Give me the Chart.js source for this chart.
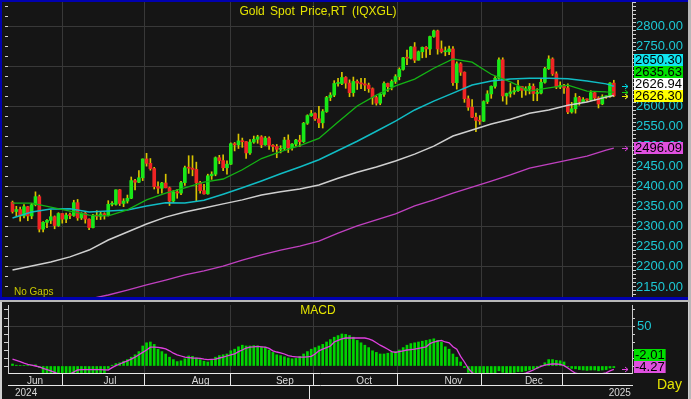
<!DOCTYPE html>
<html>
<head>
<meta charset="utf-8">
<script src="https://cdn.jsdelivr.net/npm/chart.js@4.4.1/dist/chart.umd.min.js"></script>
<style>
  html, body { margin: 0; padding: 0; width: 691px; height: 399px; overflow: hidden; background: #b8b8b8; }
  #top { position: absolute; left: 0; top: 0; width: 688px; height: 300px; background: #0000b0; }
  #c1 { position: absolute; left: 2px; top: 2px; background: #151515; }
  #bot { position: absolute; left: 0; top: 302px; width: 689px; height: 97px; background: #d0d0d0; }
  #c2 { position: absolute; left: 2px; top: 302px; background: #151515; }
</style>
</head>
<body>
<div id="top"></div>
<canvas id="c1" width="686" height="295"></canvas>
<div id="bot"></div>
<canvas id="c2" width="686" height="97"></canvas>
<script>
// daily candles, 29 May 2024 .. 3 Jan 2025 (index = trading day)
const open = [2361,2338,2343,2327,2350,2327,2355,2375,2294,2311, 2316,2325,2303,2333,2319,2329,2328,2360,2322,2334,
  2319,2298,2327,2326,2332,2330,2356,2356,2392,2358, 2364,2371,2415,2411,2422,2469,2458,2445,2400,2396,
  2409,2397,2364,2387,2384,2410,2447,2446,2443,2410, 2390,2382,2427,2431,2472,2465,2447,2456,2507,2504,
  2514,2512,2484,2511,2518,2524,2504,2521,2503,2500, 2493,2495,2516,2497,2506,2516,2512,2558,2577,2582,
  2569,2559,2587,2622,2628,2657,2657,2672,2658,2634, 2662,2658,2656,2653,2644,2622,2608,2630,2657,2649,
  2662,2674,2692,2721,2720,2748,2715,2736,2747,2743, 2774,2788,2743,2736,2736,2743,2659,2706,2685,2619,
  2598,2573,2565,2563,2612,2631,2650,2670,2716,2626, 2632,2636,2639,2650,2640,2643,2650,2632,2633,2660,
  2694,2718,2681,2648,2652,2646,2586,2594,2622,2612, 2617,2616,2634,2621,2606,2624,2624,2658];
const high = [2364,2351,2349,2355,2351,2358,2387,2379,2313,2318, 2342,2327,2335,2333,2334,2334,2366,2368,2335,2336,
  2320,2331,2340,2338,2335,2365,2363,2392,2393,2370, 2379,2424,2418,2440,2469,2483,2470,2448,2412,2411,
  2431,2399,2390,2393,2413,2451,2477,2477,2461,2413, 2406,2431,2437,2474,2478,2479,2464,2509,2510,2531,
  2521,2512,2517,2526,2528,2527,2525,2524,2505,2505, 2502,2523,2529,2507,2518,2528,2560,2579,2590,2584,
  2600,2592,2625,2634,2664,2670,2685,2674,2666,2673, 2666,2670,2670,2658,2646,2625,2633,2661,2658,2666,
  2679,2696,2722,2740,2749,2759,2738,2748,2749,2775, 2790,2790,2763,2748,2750,2749,2711,2709,2686,2626,
  2617,2583,2577,2614,2639,2651,2674,2721,2721,2633, 2657,2647,2665,2650,2649,2657,2656,2644,2668,2697,
  2726,2721,2686,2661,2655,2656,2610,2632,2625,2622, 2619,2639,2637,2624,2629,2626,2659,2665];
const low = [2334,2326,2314,2322,2315,2320,2352,2287,2287,2298, 2308,2295,2301,2309,2310,2320,2326,2316,2318,2309,
  2293,2297,2318,2318,2319,2327,2352,2354,2353,2350, 2359,2370,2392,2410,2415,2451,2441,2394,2383,2384,
  2397,2353,2360,2371,2380,2403,2433,2427,2364,2384, 2381,2381,2418,2427,2457,2440,2431,2455,2489,2495,
  2498,2470,2480,2508,2508,2497,2503,2493,2488,2472, 2484,2491,2485,2491,2500,2500,2510,2555,2575,2565,
  2547,2546,2585,2614,2624,2650,2654,2645,2624,2625, 2642,2644,2639,2635,2605,2603,2604,2625,2637,2641,
  2657,2666,2690,2704,2718,2709,2715,2721,2722,2729, 2772,2730,2733,2726,2729,2652,2643,2677,2610,2590,
  2572,2537,2555,2562,2607,2620,2645,2668,2613,2605, 2623,2630,2637,2622,2628,2631,2614,2614,2631,2658,
  2692,2677,2644,2644,2632,2582,2583,2583,2603,2609, 2612,2614,2614,2596,2604,2620,2622,2624];
const close = [2338,2343,2327,2350,2327,2355,2375,2294,2311,2316, 2325,2303,2333,2319,2329,2328,2360,2322,2334,2319,
  2298,2327,2326,2332,2330,2356,2356,2392,2358,2364, 2371,2415,2411,2422,2469,2458,2445,2400,2396,2409,
  2397,2364,2387,2384,2410,2447,2446,2443,2410,2390, 2382,2427,2431,2472,2465,2447,2456,2507,2504,2514,
  2512,2484,2511,2518,2524,2504,2521,2503,2500,2493, 2495,2516,2497,2506,2516,2512,2558,2577,2582,2569,
  2559,2587,2622,2628,2657,2657,2672,2658,2634,2662, 2658,2656,2653,2644,2622,2608,2630,2657,2649,2662,
  2674,2692,2721,2720,2748,2715,2736,2747,2743,2774, 2788,2743,2736,2736,2743,2659,2706,2685,2619,2598,
  2573,2565,2563,2612,2631,2650,2670,2716,2626,2632, 2636,2639,2650,2640,2643,2650,2632,2633,2660,2694,
  2718,2681,2648,2652,2646,2586,2594,2622,2612,2617, 2616,2634,2621,2606,2624,2624,2658,2626.30];

// moving averages, one value every 5 trading days
const maIdx = [0,5,10,15,20,25,30,35,40,45,50,55,60,65,70,75,80,85,90,95,100,105,110,115,120,125,130,135,140,145,150,155,157];
const ma20 = [2359,2359,2349,2339,2329,2327,2342,2367,2384,2397,2411,2419,2442,2470,2487,2502,2520,2561,2601,2628,2651,2668,2695,2718,2710,2680,2661,2638,2646,2653,2638,2636,2635.63];
const ma50 = [2322,2337,2344,2345,2337,2339,2342,2352,2360,2359,2366,2381,2397,2414,2432,2449,2467,2490,2513,2538,2563,2591,2613,2633,2653,2663,2668,2670,2670,2669,2663,2656,2650.30];
const ma100 = [2192,2202,2212,2225,2242,2267,2287,2307,2324,2337,2347,2357,2367,2379,2387,2394,2404,2421,2436,2449,2464,2481,2501,2526,2541,2556,2568,2583,2591,2603,2611,2623,2626.94];
const ma200Idx = [20,25,30,35,40,45,50,55,60,65,70,75,80,85,90,95,100,105,110,115,120,125,130,135,140,145,150,155,157];
const ma200 = [2120,2130,2142,2155,2167,2180,2190,2202,2217,2230,2242,2252,2264,2284,2302,2317,2332,2352,2367,2384,2399,2414,2429,2446,2456,2466,2476,2491,2496.09];

// MACD panel
const macd = [2.5,1,0.5,0.5,0.5,1,1.5,-2,-9,-9, -9,-9,-9,-9,-9,-9,-9,-9,-9,-9,
  -9,-9,-9,-9,-9,-3,1,3,4,6, 8,11,14,18,25,29,30,27,21,18,
  15,11,8,5.5,6.5,9,12.5,12,10,8, 6,5,7,11,13,14,15,19,21,24,
  26,25,25,25.5,25,24,23.5,20,17,14, 13,11.5,10,9,9.5,12,15,18,21,23,
  25,27,30,33,36,38,40,39.5,38,36, 32,29,26,23,19,17,15,15,16,17,
  18,20,23,26,28,29,30,31,32,33, 34,32,30,24,21,15,11,5,-2,-8,
  -12,-16,-18,-17,-15,-12,-10,-6,-8,-9, -9,-8,-7,-7,-6,-5,-4,-3,0.5,4,
  8,8,7,6.5,5,-1,-3,-3.5,-4.5,-5, -5.5,-5,-5,-6,-5,-4.5,-2.5,-2.01];
const signal = [8.5,7,5.5,3.5,2,1,0,-1,-3,-4.5, -6,-8,-10,-11,-11,-10,-7.5,-5,-4.5,-4.6,
  -4.6,-4.6,-4.6,-4.6,-4.8,-5,-2,0.5,2.5,4.5, 6.5,8.5,11,14,17,20,23.5,23.5,23.3,22.5,
  21.5,19,16,14,12.5,11,10.5,10,9.8,9.6, 8.5,8,8.3,8.7,10,11,12.5,14,15,18,
  20,22.5,23.5,24,24.5,24,23.5,22,19,17.5, 16.5,15,13,12,11.5,11,11,11.5,12,15,
  19,21,23,25,30,32,34,35,35,35, 35,35,35,34,32,29,26,23.5,21,18,
  17,18,19,20,20.5,21,22,23,24,28, 30,31,32,30,29,24,21,12,5,-3,
  -8,-12,-14,-15,-16,-16,-15,-14,-13,-13, -12.5,-12,-11,-10,-9,-7,-5,-2.5,-0.5,1,
  2,2.5,2.5,2,0.5,-2.5,-6,-9,-10,-10.5, -11,-11,-10.5,-10,-9.5,-8.5,-6,-4.27];

// time axis
const monthStart = [3,23,46,68,89,112,133];
const monthLabels = ['Jun','Jul','Aug','Sep','Oct','Nov','Dec'];
const yearStart = [0,155];
const yearLabels = ['2024','2025'];

const X_MIN = -1.175, X_MAX = 161.75;
const GRID = '#383838';
const UP = '#18e818', DOWN = '#f02424', WICK = '#d8c400';
const AXIS_TXT = '#1cc8d4';
Chart.defaults.font.family = "'Liberation Sans', Arial, sans-serif";

const idx = open.map((_, i) => i);
const pts = (xs, ys) => xs.map((x, k) => ({x: x, y: ys[k]}));
const noPad = s => { s.paddingTop = 0; s.paddingBottom = 0; s.paddingLeft = 0; s.paddingRight = 0; };

// stacks value tags on the right axis (lowest value at the bottom) so they do not overlap
function drawTags(ctx, scale, area, tags, h, boxX) {
  ctx.font = "13px 'Liberation Sans', Arial";
  tags.forEach(t => {
    const p = scale.getPixelForValue(t.v);
    t.py = Math.min(Math.max(p, area.top + h / 2), area.bottom - h / 2);
  });
  tags.sort((a, b) => a.v - b.v);
  for (let k = 1; k < tags.length; k++) {
    if (tags[k - 1].py - tags[k].py < h) tags[k].py = tags[k - 1].py - h;
  }
  tags.forEach(t => {
    const txt = t.v.toFixed(2);
    const w = ctx.measureText(txt).width + 2;
    ctx.fillStyle = t.bg;
    ctx.fillRect(boxX, Math.round(t.py - h / 2), w, h);
    ctx.fillStyle = '#000';
    ctx.textAlign = 'left';
    ctx.textBaseline = 'middle';
    ctx.fillText(txt, boxX + 1, Math.round(t.py) + 0.5);
  });
}
function drawArrow(ctx, x, y, color) {
  ctx.strokeStyle = color;
  ctx.lineWidth = 1;
  ctx.beginPath();
  ctx.moveTo(x, y + 0.5); ctx.lineTo(x + 6, y + 0.5);
  ctx.moveTo(x + 3, y - 2); ctx.lineTo(x + 6, y + 0.5); ctx.lineTo(x + 3, y + 3);
  ctx.stroke();
}

const mainDecor = {
  id: 'mainDecor',
  afterDraw(chart) {
    const ctx = chart.ctx, ys = chart.scales.y, area = chart.chartArea;
    ctx.save();
    ctx.font = "12px 'Liberation Sans', Arial";
    ctx.fillStyle = '#e4e400';
    ctx.textAlign = 'center';
    ctx.textBaseline = 'middle';
    ctx.wordSpacing = '2px';
    ctx.fillText('Gold Spot Price,RT (IQXGL)', 316, 10);
    ctx.wordSpacing = '0px';
    ctx.font = "10px 'Liberation Sans', Arial";
    ctx.fillStyle = '#c8c800';
    ctx.textAlign = 'left';
    ctx.fillText('No Gaps', 12, 290);
    const last = close.length - 1;
    const ends = [
      {v: ma100[ma100.length - 1], c: '#e0e0e0'},
      {v: ma200[ma200.length - 1], c: '#d040d0'},
      {v: ma50[ma50.length - 1], c: '#00d8e0'},
      {v: ma20[ma20.length - 1], c: '#10d010'},
      {v: close[last], c: '#e8e800'}
    ];
    ends.forEach(e => drawArrow(ctx, area.right - 10, Math.round(ys.getPixelForValue(e.v)), e.c));
    drawTags(ctx, ys, area, [
      {v: ma50[ma50.length - 1], bg: '#10e4f0'},
      {v: ma20[ma20.length - 1], bg: '#00e000'},
      {v: ma100[ma100.length - 1], bg: '#ffffff'},
      {v: close[last], bg: '#ffff00'},
      {v: ma200[ma200.length - 1], bg: '#e050e0'}
    ], 12, area.right + 2);
    ctx.restore();
  }
};

new Chart(document.getElementById('c1'), {
  type: 'bar',
  data: {
    datasets: [
      {type: 'line', data: pts(maIdx, ma20), borderColor: '#14b414', borderWidth: 1.3, pointRadius: 0, order: 0},
      {type: 'line', data: pts(maIdx, ma50), borderColor: '#10bcc4', borderWidth: 1.5, pointRadius: 0, order: 0},
      {type: 'line', data: pts(maIdx, ma100), borderColor: '#cfcfcf', borderWidth: 1.5, pointRadius: 0, order: 0},
      {type: 'line', data: pts(ma200Idx, ma200), borderColor: '#c040c0', borderWidth: 1.3, pointRadius: 0, order: 0},
      {data: idx.map(i => ({x: i, y: [open[i], close[i]]})), backgroundColor: idx.map(i => close[i] >= open[i] ? UP : DOWN),
       barThickness: 3, minBarLength: 1, grouped: false, order: 1},
      {data: idx.map(i => ({x: i, y: [low[i], high[i]]})), backgroundColor: WICK,
       barThickness: 1, grouped: false, order: 2}
    ]
  },
  options: {
    responsive: false, animation: false, events: [],
    layout: {padding: 0},
    plugins: {legend: {display: false}, tooltip: {enabled: false}},
    scales: {
      x: {
        type: 'linear', min: X_MIN, max: X_MAX, offset: false,
        afterBuildTicks: s => { s.ticks = monthStart.map(v => ({value: v})); },
        ticks: {display: false},
        grid: {color: GRID, drawTicks: false},
        border: {display: false},
        afterFit: s => { s.height = 0; noPad(s); }
      },
      y: {
        position: 'right', min: 2125, max: 2860,
        afterBuildTicks: s => { const t = []; for (let v = 2130; v <= 2860; v += 10) t.push({value: v}); s.ticks = t; },
        ticks: {autoSkip: false, color: AXIS_TXT, padding: 0, font: {size: 13},
          callback: v => (v % 50 === 0 && v >= 2150 && v <= 2800) ? v.toFixed(2) : ''},
        grid: {color: c => (c.tick && c.tick.value % 100 === 0 && c.tick.value <= 2800) ? GRID : 'rgba(0,0,0,0)',
          tickColor: '#d0d0d0', tickLength: 4},
        border: {color: '#c8c8c8'},
        afterFit: s => { s.width = 56; noPad(s); }
      },
      yl: {
        position: 'left', min: 2125, max: 2860,
        afterBuildTicks: s => { const t = []; for (let v = 2125; v <= 2860; v += 25) t.push({value: v}); s.ticks = t; },
        ticks: {display: false},
        grid: {drawOnChartArea: false, tickColor: '#d0d0d0', tickLength: 3},
        border: {display: false},
        afterFit: s => { s.width = 6; noPad(s); }
      }
    }
  },
  plugins: [mainDecor]
});

const macdDecor = {
  id: 'macdDecor',
  afterDraw(chart) {
    const ctx = chart.ctx, ys = chart.scales.y, area = chart.chartArea;
    ctx.save();
    ctx.font = "12px 'Liberation Sans', Arial";
    ctx.fillStyle = '#e4e400';
    ctx.textAlign = 'center';
    ctx.textBaseline = 'middle';
    ctx.fillText('MACD', 316, 9);
    ctx.font = "14px 'Liberation Sans', Arial";
    ctx.textAlign = 'left';
    ctx.fillText('Day', 655, 83);
    drawArrow(ctx, area.right - 10, Math.round(Math.min(ys.getPixelForValue(signal[signal.length - 1]), area.bottom - 4)), '#e040e0');
    drawTags(ctx, ys, area, [
      {v: macd[macd.length - 1], bg: '#00e000'},
      {v: signal[signal.length - 1], bg: '#e050e0'}
    ], 12, area.right + 2);
    ctx.restore();
  }
};

new Chart(document.getElementById('c2'), {
  type: 'bar',
  data: {
    datasets: [
      {type: 'line', data: pts(idx, signal), borderColor: '#e040e0', borderWidth: 1.3, pointRadius: 0, order: 0},
      {data: pts(idx, macd), backgroundColor: '#00d400', barThickness: 2, grouped: false, order: 1}
    ]
  },
  options: {
    responsive: false, animation: false, events: [],
    layout: {padding: {top: 3}},
    plugins: {legend: {display: false}, tooltip: {enabled: false}},
    scales: {
      x: {
        type: 'linear', position: 'bottom', min: X_MIN, max: X_MAX, offset: false, weight: 0,
        afterBuildTicks: s => { s.ticks = monthStart.map(v => ({value: v})); },
        ticks: {autoSkip: false, maxRotation: 0, align: 'start', labelOffset: 3, padding: -10,
          color: '#d8d8d8', font: {size: 10}, callback: (v, i) => monthLabels[i]},
        grid: {color: GRID, tickColor: '#e8e8e8', tickLength: 12},
        border: {color: '#e8e8e8'},
        afterFit: s => { s.height = 12; noPad(s); }
      },
      x2: {
        type: 'linear', position: 'bottom', min: X_MIN, max: X_MAX, offset: false, weight: 1,
        afterBuildTicks: s => { s.ticks = yearStart.map(v => ({value: v})); },
        ticks: {autoSkip: false, maxRotation: 0, align: 'start', labelOffset: 2.5, padding: -12,
          color: '#d8d8d8', font: {size: 10}, callback: (v, i) => yearLabels[i]},
        grid: {drawOnChartArea: false, tickColor: c => c.index === 0 ? 'rgba(0,0,0,0)' : '#e8e8e8', tickLength: 14},
        border: {color: '#e8e8e8'},
        afterFit: s => { s.height = 14; noPad(s); }
      },
      y: {
        position: 'right', min: -8.75, max: 76.25,
        afterBuildTicks: s => { const t = []; for (let v = 0; v <= 70; v += 10) t.push({value: v}); s.ticks = t; },
        ticks: {autoSkip: false, color: AXIS_TXT, padding: 2, font: {size: 13},
          callback: v => v === 50 ? '50' : ''},
        grid: {color: c => (c.tick && c.tick.value === 50) ? GRID : 'rgba(0,0,0,0)', tickColor: '#d0d0d0', tickLength: 3},
        border: {color: '#c8c8c8'},
        afterFit: s => { s.width = 56; noPad(s); }
      },
      yl: {
        position: 'left', min: -8.75, max: 76.25,
        afterBuildTicks: s => { const t = []; for (let v = 0; v <= 70; v += 10) t.push({value: v}); s.ticks = t; },
        ticks: {display: false},
        grid: {drawOnChartArea: false, tickColor: '#d0d0d0', tickLength: 4},
        border: {color: '#d0d0d0'},
        afterFit: s => { s.width = 6; noPad(s); }
      }
    }
  },
  plugins: [macdDecor]
});
</script>
</body>
</html>
